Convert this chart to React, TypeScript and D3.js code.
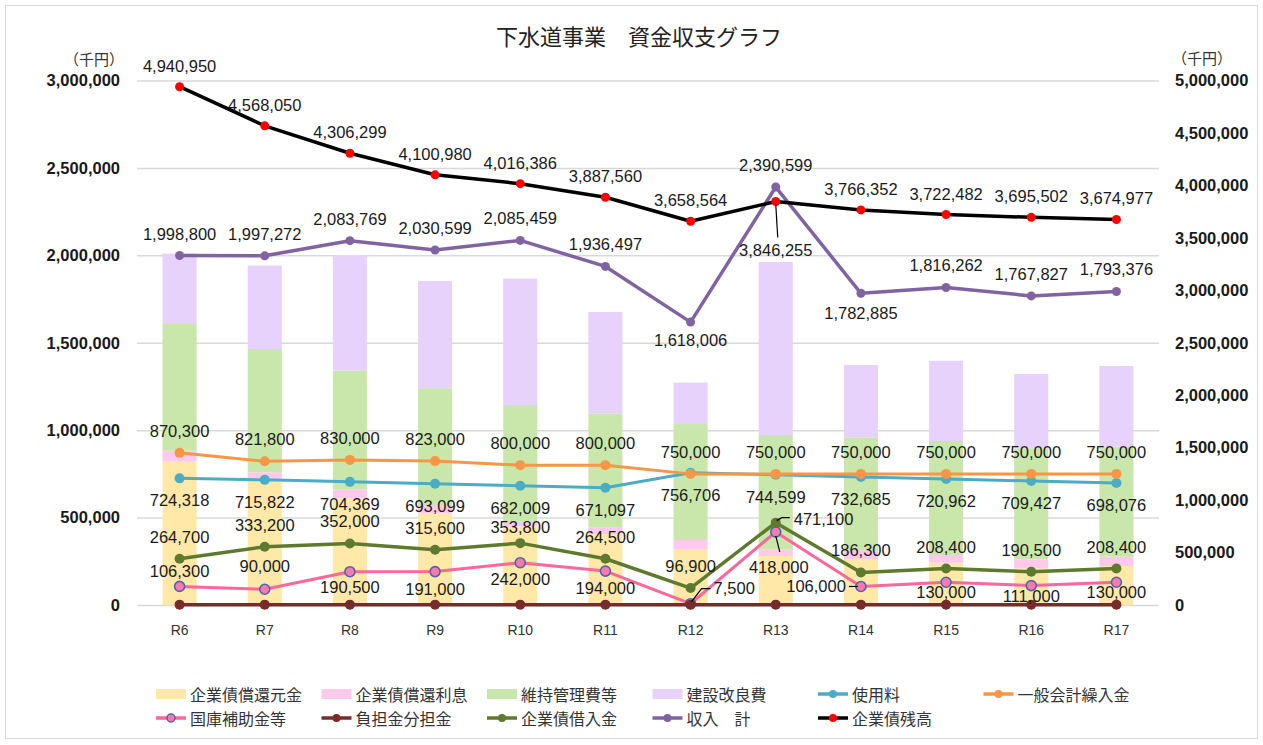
import { useEffect, useRef } from 'react';
import * as d3 from 'd3';

// 年度
const categories = ['R6', 'R7', 'R8', 'R9', 'R10', 'R11', 'R12', 'R13', 'R14', 'R15', 'R16', 'R17'];

// 支出（積み上げ棒・左軸）
const shokanGankin = [820000, 722000, 610000, 524000, 448000, 406000, 320000, 280000, 261000, 242000, 210000, 223000];
const shokanRisoku = [63000, 37000, 52000, 48000, 28000, 36000, 52000, 38000, 54000, 44000, 51000, 53000];
const ijiKanri = [724000, 705000, 678000, 668000, 668000, 654000, 663000, 654000, 644000, 652000, 635000, 630000];
const kensetsu = [403000, 477000, 662000, 613000, 723000, 580000, 237000, 990000, 414000, 459000, 425000, 461000];

// 収入（折れ線・左軸）
const shiyoryo = [724318, 715822, 704369, 693099, 682009, 671097, 756706, 744599, 732685, 720962, 709427, 698076];
const ippanKaikei = [870300, 821800, 830000, 823000, 800000, 800000, 750000, 750000, 750000, 750000, 750000, 750000];
const kokko = [106300, 90000, 190500, 191000, 242000, 194000, 7500, 418000, 106000, 130000, 111000, 130000];
const futankin = [2000, 2000, 2000, 2000, 2000, 2000, 2000, 2000, 2000, 2000, 2000, 2000];
const kisaiKariire = [264700, 333200, 352000, 315600, 353800, 264500, 96900, 471100, 186300, 208400, 190500, 208400];
const shunyuKei = [1998800, 1997272, 2083769, 2030599, 2085459, 1936497, 1618006, 2390599, 1782885, 1816262, 1767827, 1793376];

// 企業債残高（右軸）
const kisaiZandaka = [4940950, 4568050, 4306299, 4100980, 4016386, 3887560, 3658564, 3846255, 3766352, 3722482, 3695502, 3674977];

const leftTicks = [0, 500000, 1000000, 1500000, 2000000, 2500000, 3000000];
const rightTicks = [0, 500000, 1000000, 1500000, 2000000, 2500000, 3000000, 3500000, 4000000, 4500000, 5000000];

const barSeries = [
  { key: '企業債償還元金', values: shokanGankin, color: '#ffe8a8' },
  { key: '企業債償還利息', values: shokanRisoku, color: '#ffc9ec' },
  { key: '維持管理費等', values: ijiKanri, color: '#c9e7aa' },
  { key: '建設改良費', values: kensetsu, color: '#e6d2fb' },
];

type Place = { dx?: number; dy: number; anchor?: string; leader?: [number, number][] };
const A: Place = { dy: -22 };
const B: Place = { dy: 22 };

const lineSeries = [
  { key: '使用料', values: shiyoryo, color: '#4bacc6', width: 3, r: 5, mark: '#4bacc6', ring: null, right: false,
    labels: categories.map(() => B) },
  { key: '一般会計繰入金', values: ippanKaikei, color: '#f79646', width: 3, r: 5, mark: '#f79646', ring: null, right: false,
    labels: categories.map(() => A) },
  { key: '国庫補助金等', values: kokko, color: '#ff6699', width: 3, r: 5, mark: '#ff79ad', ring: '#4a66b0', right: false,
    labels: [
      { dy: -15 }, { dy: -23 }, { dy: 15 }, { dy: 17 }, { dy: 16 }, { dy: 17 },
      { dx: 23, dy: -16, anchor: 'start', leader: [[1, -2], [11, -15], [20, -15]] },
      { dx: 3, dy: 35, leader: [[0, 4], [4, 20]] },
      { dx: -15, dy: 0, anchor: 'end', leader: [[-12, 0], [-3, 0]] },
      { dy: 10 }, { dy: 10 }, { dy: 10 },
    ] as Place[] },
  { key: '負担金分担金', values: futankin, color: '#772c2a', width: 3.5, r: 5, mark: '#772c2a', ring: null, right: false,
    labels: null },
  { key: '企業債借入金', values: kisaiKariire, color: '#5e7a2e', width: 3.5, r: 5, mark: '#5e7a2e', ring: null, right: false,
    labels: categories.map((c) => (c === 'R13'
      ? { dx: 18, dy: -4, anchor: 'start', leader: [[1, -2], [6, -5], [14, -5]] }
      : c === 'R10' ? { dy: -16 } : { dy: -22 })) as Place[] },
  { key: '収入　計', values: shunyuKei, color: '#8064a2', width: 3.5, r: 4.5, mark: '#8064a2', ring: null, right: false,
    labels: categories.map((c) => (c === 'R12' ? { dy: 18 } : c === 'R14' ? { dy: 20 } : A)) },
  { key: '企業債残高', values: kisaiZandaka, color: '#000000', width: 3.5, r: 4.5, mark: '#ff0000', ring: null, right: true,
    labels: categories.map((c) => (c === 'R13' ? { dy: 48, leader: [[0, 3], [2, 36]] } : { dy: -21 })) as Place[] },
];

const NUM_FONT = "'Liberation Sans', Arial, sans-serif";
const JP_FONT = "'Noto Sans CJK JP', 'Noto Sans', sans-serif";

const App = () => {
  const ref = useRef<SVGSVGElement>(null);

  useEffect(() => {
    const width = 1263;
    const height = 745;
    const plot = { left: 137, right: 1159, top: 80.5, bottom: 605 };

    const svg = d3.select(ref.current);
    svg.selectAll('*').remove();
    svg.attr('width', width).attr('height', height);

    svg.append('rect')
      .attr('x', 0).attr('y', 0).attr('width', width).attr('height', height)
      .attr('fill', '#fff');
    svg.append('rect')
      .attr('x', 5.5).attr('y', 5.5).attr('width', 1252).attr('height', 733)
      .attr('fill', 'none').attr('stroke', '#d9d9d9');

    // scales
    const x = d3.scaleBand().domain(categories).range([plot.left, plot.right]).paddingInner(0.6).paddingOuter(0.3);
    const cx = (c: string) => (x(c) as number) + x.bandwidth() / 2;
    const yL = d3.scaleLinear().domain([0, 3000000]).range([plot.bottom, plot.top]);
    const yR = d3.scaleLinear().domain([0, 5000000]).range([plot.bottom, plot.top]);
    const fmt = d3.format(',');

    // left axis + gridlines
    const gL = svg.append('g')
      .attr('transform', `translate(${plot.left},0)`)
      .call(d3.axisLeft(yL).tickValues(leftTicks).tickFormat((d) => fmt(d as number))
        .tickSize(-(plot.right - plot.left)).tickPadding(17));
    gL.select('.domain').remove();
    gL.selectAll('line').attr('stroke', '#d9d9d9').attr('stroke-width', 1.5);
    gL.selectAll('text').attr('font-family', NUM_FONT).attr('font-size', 16.5).attr('font-weight', 'bold').attr('fill', '#1a1a1a');

    // right axis
    const gR = svg.append('g')
      .attr('transform', `translate(${plot.right},0)`)
      .call(d3.axisRight(yR).tickValues(rightTicks).tickFormat((d) => fmt(d as number)).tickSize(0).tickPadding(16));
    gR.select('.domain').remove();
    gR.selectAll('text').attr('font-family', NUM_FONT).attr('font-size', 16.5).attr('font-weight', 'bold').attr('fill', '#1a1a1a');

    // bottom axis
    const gB = svg.append('g')
      .attr('transform', `translate(0,${plot.bottom})`)
      .call(d3.axisBottom(x).tickSize(0).tickPadding(20));
    gB.select('.domain').remove();
    gB.selectAll('text').attr('font-family', NUM_FONT).attr('font-size', 14).attr('fill', '#333');

    // unit labels
    svg.append('text').attr('x', 94).attr('y', 58).attr('text-anchor', 'middle').attr('dominant-baseline', 'central')
      .attr('font-family', JP_FONT).attr('font-size', 15).attr('fill', '#333').text('（千円）');
    svg.append('text').attr('x', 1202).attr('y', 57).attr('text-anchor', 'middle').attr('dominant-baseline', 'central')
      .attr('font-family', JP_FONT).attr('font-size', 15).attr('fill', '#333').text('（千円）');

    // title
    svg.append('text').attr('x', 639).attr('y', 35).attr('text-anchor', 'middle').attr('dominant-baseline', 'central')
      .attr('font-family', JP_FONT).attr('font-size', 22).attr('fill', '#222').text('下水道事業　資金収支グラフ');

    // stacked bars
    const rows = categories.map((c, i) => {
      const row: Record<string, number | string> = { cat: c };
      barSeries.forEach((s) => { row[s.key] = s.values[i]; });
      return row;
    });
    const stacked = d3.stack<Record<string, number | string>>().keys(barSeries.map((s) => s.key))(rows);
    stacked.forEach((layer, li) => {
      svg.append('g').selectAll('rect').data(layer).join('rect')
        .attr('x', (d) => x(d.data.cat as string) as number)
        .attr('width', x.bandwidth())
        .attr('y', (d) => yL(d[1]))
        .attr('height', (d) => yL(d[0]) - yL(d[1]))
        .attr('fill', barSeries[li].color);
    });

    // lines
    const labelLayer: { x: number; y: number; text: string; p: Place }[] = [];
    lineSeries.forEach((s) => {
      const y = s.right ? yR : yL;
      const pts = categories.map((c, i) => [cx(c), y(s.values[i])] as [number, number]);
      svg.append('path')
        .attr('d', d3.line()(pts))
        .attr('fill', 'none')
        .attr('stroke', s.color)
        .attr('stroke-width', s.width)
        .attr('stroke-linejoin', 'round');
      svg.append('g').selectAll('circle').data(pts).join('circle')
        .attr('cx', (d) => d[0]).attr('cy', (d) => d[1]).attr('r', s.r)
        .attr('fill', s.mark)
        .attr('stroke', s.ring || 'none')
        .attr('stroke-width', s.ring ? 1.6 : 0);
      if (s.labels) {
        pts.forEach((pt, i) => labelLayer.push({ x: pt[0], y: pt[1], text: fmt(s.values[i]), p: s.labels![i] }));
      }
    });

    // data labels
    const gLab = svg.append('g');
    labelLayer.forEach((l) => {
      if (l.p.leader) {
        gLab.append('path')
          .attr('d', d3.line()(l.p.leader.map(([a, b]) => [l.x + a, l.y + b] as [number, number])))
          .attr('fill', 'none').attr('stroke', '#000').attr('stroke-width', 1.2);
      }
      gLab.append('text')
        .attr('x', l.x + (l.p.dx || 0))
        .attr('y', l.y + l.p.dy)
        .attr('text-anchor', l.p.anchor || 'middle')
        .attr('dominant-baseline', 'central')
        .attr('font-family', NUM_FONT)
        .attr('font-size', 16.5)
        .attr('fill', '#1a1a1a')
        .text(l.text);
    });

    // legend
    const legendItems = [
      ...barSeries.map((s) => ({ key: s.key, type: 'bar', color: s.color, mark: s.color, ring: null as string | null })),
      ...lineSeries.map((s) => ({ key: s.key, type: 'line', color: s.color, mark: s.mark, ring: s.ring as string | null })),
    ];
    const gLeg = svg.append('g');
    legendItems.forEach((it, i) => {
      const col = i % 6;
      const row = Math.floor(i / 6);
      const lx = 156 + col * 165.5;
      const ly = 694 + row * 24;
      if (it.type === 'bar') {
        gLeg.append('rect').attr('x', lx).attr('y', ly - 5).attr('width', 30).attr('height', 10).attr('fill', it.color);
      } else {
        gLeg.append('line').attr('x1', lx).attr('x2', lx + 30).attr('y1', ly).attr('y2', ly)
          .attr('stroke', it.color).attr('stroke-width', 3.5);
        gLeg.append('circle').attr('cx', lx + 15).attr('cy', ly).attr('r', 4)
          .attr('fill', it.mark).attr('stroke', it.ring || 'none').attr('stroke-width', it.ring ? 1.5 : 0);
      }
      gLeg.append('text').attr('x', lx + 34).attr('y', ly).attr('dominant-baseline', 'central')
        .attr('font-family', JP_FONT).attr('font-size', 16).attr('fill', '#333').text(it.key);
    });
  }, []);

  return (
    <div style={{ position: 'absolute', left: 0, top: 0 }}>
      <svg ref={ref}></svg>
    </div>
  );
};

export default App;
